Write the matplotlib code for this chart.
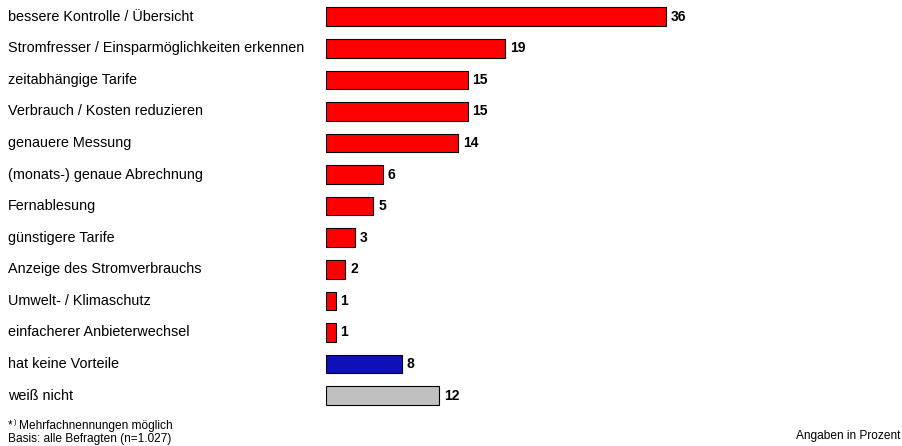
import matplotlib
matplotlib.use('Agg')
import matplotlib.pyplot as plt

# Antworten und Anteile (Angaben in Prozent)
categories = [
    'bessere Kontrolle / Übersicht',
    'Stromfresser / Einsparmöglichkeiten erkennen',
    'zeitabhängige Tarife',
    'Verbrauch / Kosten reduzieren',
    'genauere Messung',
    '(monats-) genaue Abrechnung',
    'Fernablesung',
    'günstigere Tarife',
    'Anzeige des Stromverbrauchs',
    'Umwelt- / Klimaschutz',
    'einfacherer Anbieterwechsel',
    'hat keine Vorteile',
    'weiß nicht',
]
values = [36, 19, 15, 15, 14, 6, 5, 3, 2, 1, 1, 8, 12]
bar_colors = ['#FF0000'] * 11 + ['#1010B8', '#C0C0C0']

plt.rcParams['font.family'] = ['Liberation Sans', 'DejaVu Sans']

fig = plt.figure(figsize=(9.02, 4.46), dpi=100)
# Achse so platzieren, dass die Balken bei x=326px beginnen
ax = fig.add_axes([326.3 / 902, 0.0778, 565.8 / 902, 0.920])

pos = list(range(len(categories)))
ax.barh(pos, values, height=0.59, color=bar_colors, edgecolor='black', linewidth=0.8)
ax.set_xlim(0, 60)
ax.set_ylim(12.5, -0.5)
ax.axis('off')

for p, v in zip(pos, values):
    ax.annotate(str(v), xy=(v, p), xytext=(3.5, 0), textcoords='offset points',
                va='center', ha='left', fontsize=10, fontweight='bold')
    # Beschriftung links
    ax.annotate(categories[p], xy=(0, p), xycoords=('figure pixels', 'data'),
                xytext=(8, 0), textcoords='offset pixels',
                va='center', ha='left', fontsize=10.4)

# Fußnoten
fig.text(8 / 902, 1 - 425 / 446, '*', fontsize=8.5, va='center', ha='left')
fig.text(13.5 / 902, 1 - 423 / 446, ')', fontsize=5.5, va='center', ha='left')
fig.text(19 / 902, 1 - 426 / 446, 'Mehrfachnennungen möglich',
         fontsize=8.6, va='center', ha='left')
fig.text(8 / 902, 1 - 439 / 446, 'Basis: alle Befragten (n=1.027)',
         fontsize=8.6, va='center', ha='left')
fig.text(900 / 902, 1 - 436 / 446, 'Angaben in Prozent',
         fontsize=8.6, va='center', ha='right')

fig.savefig('out.png', dpi=100)
